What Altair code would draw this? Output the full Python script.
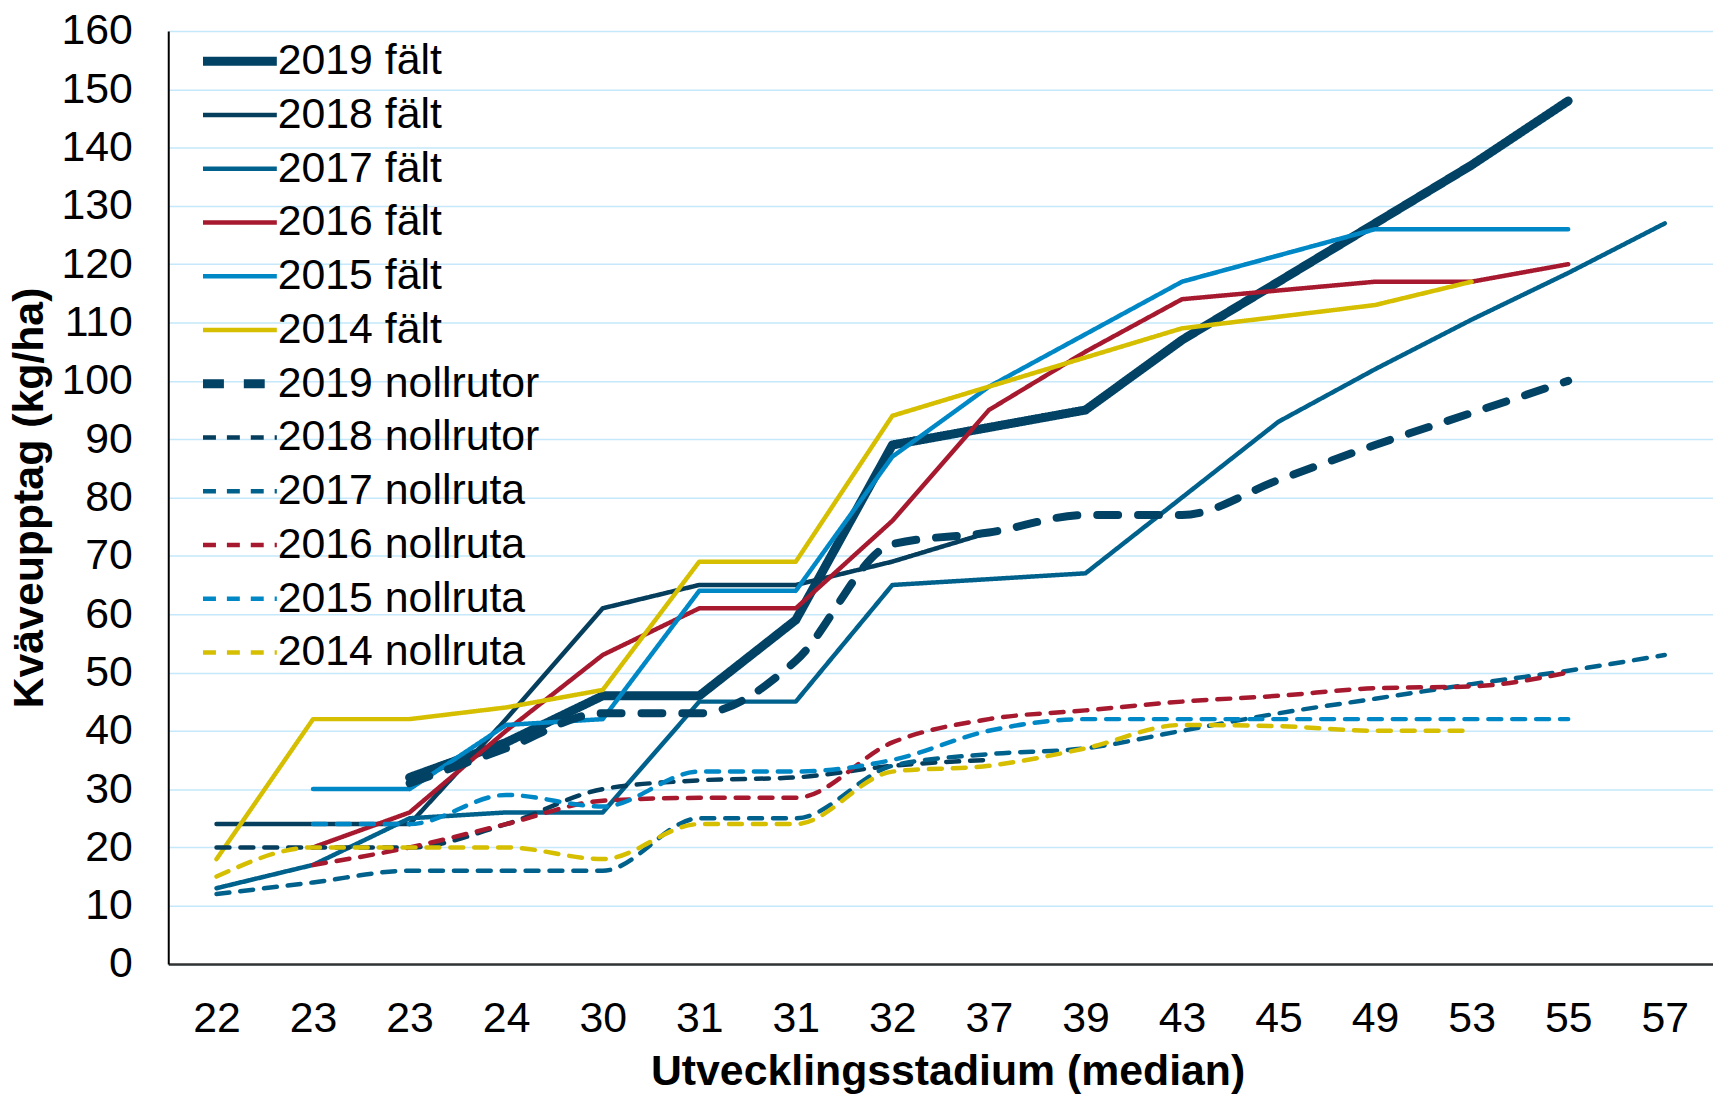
import json
import altair as alt
import pandas as pd

# x-axis categories (developmental stage, median) - note duplicates
stages = ["22", "23", "23", "24", "30", "31", "31", "32", "37", "39", "43", "45", "49", "53", "55", "57"]

series_names = ["2019 fält", "2018 fält", "2017 fält", "2016 fält", "2015 fält", "2014 fält",
                "2019 nollrutor", "2018 nollrutor", "2017 nollruta", "2016 nollruta",
                "2015 nollruta", "2014 nollruta"]

N = None
falt_2019 = [N, N, 32, 38, 46, 46, 59, 89, 92, 95, 107, 117, 127, 137, 148, N]
falt_2018 = [24, 24, 24, 42, 61, 65, 65, 69, 74, N, N, N, N, N, N, N]
falt_2017 = [13, 17, 25, 26, 26, 45, 45, 65, 66, 67, 80, 93, 102, 110.5, 118.5, 127]
falt_2016 = [N, 20, 26, 40, 53, 61, 61, 76, 95, 105, 114, 115.5, 117, 117, 120, N]
falt_2015 = [N, 30, 30, 41, 42, 64, 64, 87, 99, 108, 117, 121.5, 126, 126, 126, N]
falt_2014 = [18, 42, 42, 44, 47, 69, 69, 94, 99, 104, 109, 111, 113, 117, N, N]
noll_2019 = [N, N, 31, 37, 43, 43, 52, 72, 74, 77, 77, 83, 89, 94.5, 100, N]
noll_2018 = [20, 20, 20, 24, 30, 31.5, 32, 34, 35, N, N, N, N, N, N, N]
noll_2017 = [12, 14, 16, 16, 16, 25, 25, 34, 36, 37, 40, 43, 45.5, 48, 50.3, 53]
noll_2016 = [N, 17, 20, 24, 28, 28.5, 28.5, 38, 42, 43.5, 45, 46, 47.3, 47.6, 50, N]
noll_2015 = [N, 24, 24, 29, 27, 33, 33, 35, 40, 42, 42, 42, 42, 42, 42, N]
noll_2014 = [15, 20, 20, 20, 18, 24, 24, 33, 34, 37, 41, 40.8, 40, 40, N, N]

all_values = [falt_2019, falt_2018, falt_2017, falt_2016, falt_2015, falt_2014,
              noll_2019, noll_2018, noll_2017, noll_2016, noll_2015, noll_2014]

colors = ["#014265", "#063E5E", "#00618C", "#A6192E", "#0088C6", "#D5BF00",
          "#014265", "#063E5E", "#00618C", "#A6192E", "#0088C6", "#D5BF00"]
dashes = [[1, 0]] * 6 + [[21, 20]] + [[13, 11]] * 5
widths = [9, 4.5, 4.5, 4.5, 4.5, 4.5, 8, 4.5, 4.5, 4.5, 4.5, 4.5]

rows = []
for si, (name, vals) in enumerate(zip(series_names, all_values)):
    kind = "solid" if si < 6 else "dash"
    for i, v in enumerate(vals):
        if v is not None:
            rows.append({"series": name, "idx": i, "value": v, "kind": kind,
                         "w": widths[si], "order": si})
df = pd.DataFrame(rows)

FONT = "Liberation Sans"

legend = alt.Legend(
    title=None, orient="none", legendX=50.5, legendY=9,
    labelFont=FONT, labelFontSize=43, labelColor="#000000", labelLimit=0,
    symbolType="stroke", symbolSize=5500, labelOffset=16.5, padding=0,
    rowPadding=10,
    symbolStrokeWidth={"expr": "indexof(['2019 fält','2019 nollrutor'], datum.value) >= 0 ? 9 : 4.5"},
)

label_expr = json.dumps(stages) + "[datum.value]"

base = alt.Chart(df).encode(
    x=alt.X("idx:Q",
            scale=alt.Scale(domain=[-0.5, 15.5], nice=False, zero=False),
            axis=alt.Axis(values=list(range(16)), labelExpr=label_expr,
                          title="Utvecklingsstadium (median)", grid=False, ticks=False,
                          labelPadding=34, titleY=108, titleX=783, titleBaseline="middle",
                          domainColor="#333333", domainWidth=2.5)),
    y=alt.Y("value:Q",
            scale=alt.Scale(domain=[0, 160], nice=False),
            axis=alt.Axis(values=list(range(0, 161, 10)), title="Kväveupptag (kg/ha)",
                          ticks=False, labelPadding=36, titleX=-139, titleBaseline="middle",
                          grid=True, gridColor="#C5E8FA", gridWidth=1.5,
                          domainColor="#000000", domainWidth=2)),
    color=alt.Color("series:N", scale=alt.Scale(domain=series_names, range=colors), legend=legend),
    strokeDash=alt.StrokeDash("series:N", scale=alt.Scale(domain=series_names, range=dashes), legend=legend),
    strokeWidth=alt.StrokeWidth("w:Q", scale=None),
    order=alt.Order("idx:Q"),
)

solid = base.transform_filter("datum.kind == 'solid'").mark_line(strokeCap="round", strokeJoin="round")
dashed = base.transform_filter("datum.kind == 'dash'").mark_line(
    strokeCap="round", strokeJoin="round", interpolate="monotone")

chart = alt.layer(solid, dashed).properties(
    width=1552, height=937.5,
    padding={"left": 161, "top": 20.5, "right": 0, "bottom": 128},
    autosize=alt.AutoSizeParams(type="none"),
    background="#ffffff",
).configure_view(stroke=None).configure_axis(
    labelFont=FONT, labelFontSize=43, labelColor="#000000",
    titleFont=FONT, titleFontSize=43, titleFontWeight="bold", titleColor="#000000",
)

chart.save("out.html", embed_options={"renderer": "svg", "actions": False})
